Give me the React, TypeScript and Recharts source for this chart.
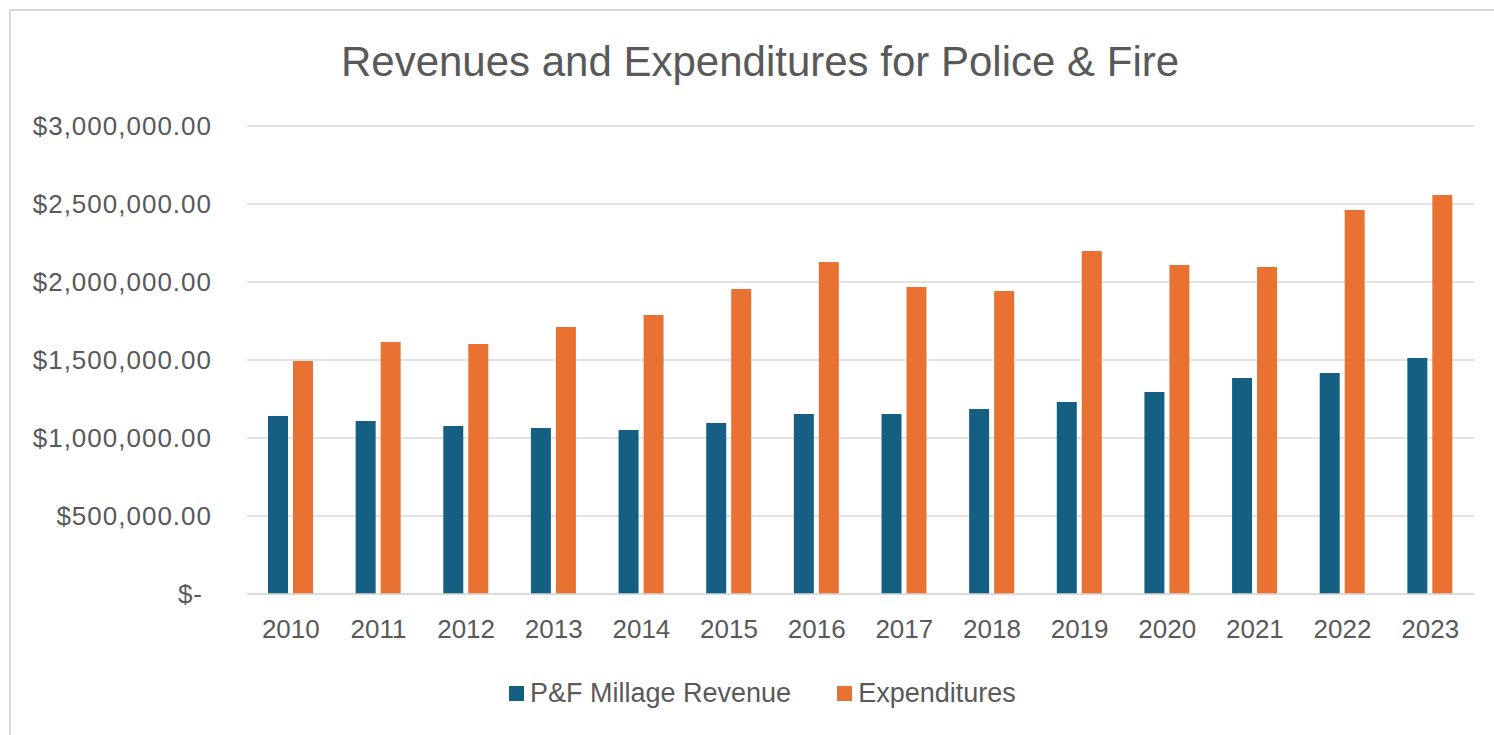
import React from 'react';
import { BarChart, Bar, XAxis, YAxis, CartesianGrid } from 'recharts';

const years = ['2010', '2011', '2012', '2013', '2014', '2015', '2016', '2017', '2018', '2019', '2020', '2021', '2022', '2023'];
const millageRevenue = [1141000, 1109000, 1077000, 1064000, 1051000, 1096000, 1154000, 1154000, 1186000, 1231000, 1295000, 1385000, 1417000, 1513000];
const expenditures = [1494000, 1615000, 1603000, 1712000, 1788000, 1955000, 2128000, 1968000, 1942000, 2199000, 2109000, 2096000, 2462000, 2558000];
const yTicks = [0, 500000, 1000000, 1500000, 2000000, 2500000, 3000000];

const data = years.map((year, i) => ({
  year,
  revenue: millageRevenue[i],
  expenditures: expenditures[i],
}));

const FONT = '"Liberation Sans", Arial, sans-serif';
const TEXT = '#595959';
const BLUE = '#156082';
const ORANGE = '#E97132';

function fmtMoney(v: number) {
  if (v === 0) return '$-';
  return '$' + v.toLocaleString('en-US', { minimumFractionDigits: 2, maximumFractionDigits: 2 });
}

const YTick = (props: any) => {
  const { x, y, payload } = props;
  const shift = payload.value === 0 ? -9 : 0;
  return (
    <text x={x + shift} y={y} dy="0.35em" textAnchor="end" fill={TEXT} fontSize={26} letterSpacing={1} fontFamily={FONT}>
      {fmtMoney(payload.value)}
    </text>
  );
};

const swatch = (color: string) => (
  <span style={{ width: 15, height: 15, background: color, marginRight: 6, display: 'inline-block' }} />
);

export default function App() {
  return (
    <div style={{ position: 'relative', width: 1494, height: 735, overflow: 'hidden', background: '#fff' }}>
      <style>{`body{margin:0;overflow:hidden;background:#fff}`}</style>
      <div style={{ position: 'absolute', left: 9, top: 9, width: 1510, height: 760, border: '2px solid #d9d9d9', boxSizing: 'border-box' }} />
      <div style={{ position: 'absolute', left: 0, width: 1520, top: 37, textAlign: 'center', fontFamily: FONT, fontSize: 42, color: TEXT, lineHeight: '50px' }}>
        Revenues and Expenditures for Police &amp; Fire
      </div>
      <div style={{ position: 'absolute', left: 0, top: 0 }}>
        <BarChart
          width={1494}
          height={735}
          data={data}
          margin={{ top: 126, right: 20, left: 0, bottom: 81 }}
          barGap={5}
          barSize={20}
        >
          <CartesianGrid vertical={false} stroke="#d9d9d9" strokeWidth={1.5} />
          <XAxis
            dataKey="year"
            axisLine={{ stroke: '#d9d9d9', strokeWidth: 1.5 }}
            tickLine={false}
            tickSize={0}
            tickMargin={26}
            height={60}
            tick={{ fill: TEXT, fontSize: 26, fontFamily: FONT }}
          />
          <YAxis
            width={247}
            domain={[0, 3000000]}
            ticks={yTicks}
            axisLine={false}
            tickLine={false}
            tickSize={0}
            tickMargin={35}
            tick={<YTick />}
          />
          <Bar dataKey="revenue" name="P&F Millage Revenue" fill={BLUE} isAnimationActive={false} />
          <Bar dataKey="expenditures" name="Expenditures" fill={ORANGE} isAnimationActive={false} />
        </BarChart>
      </div>
      <div style={{ position: 'absolute', top: 677, left: 509, display: 'flex', gap: 46, fontFamily: FONT, fontSize: 27, color: TEXT, lineHeight: '32px' }}>
        <div style={{ display: 'flex', alignItems: 'center' }}>
          {swatch(BLUE)}
          P&amp;F Millage Revenue
        </div>
        <div style={{ display: 'flex', alignItems: 'center' }}>
          {swatch(ORANGE)}
          Expenditures
        </div>
      </div>
    </div>
  );
}
